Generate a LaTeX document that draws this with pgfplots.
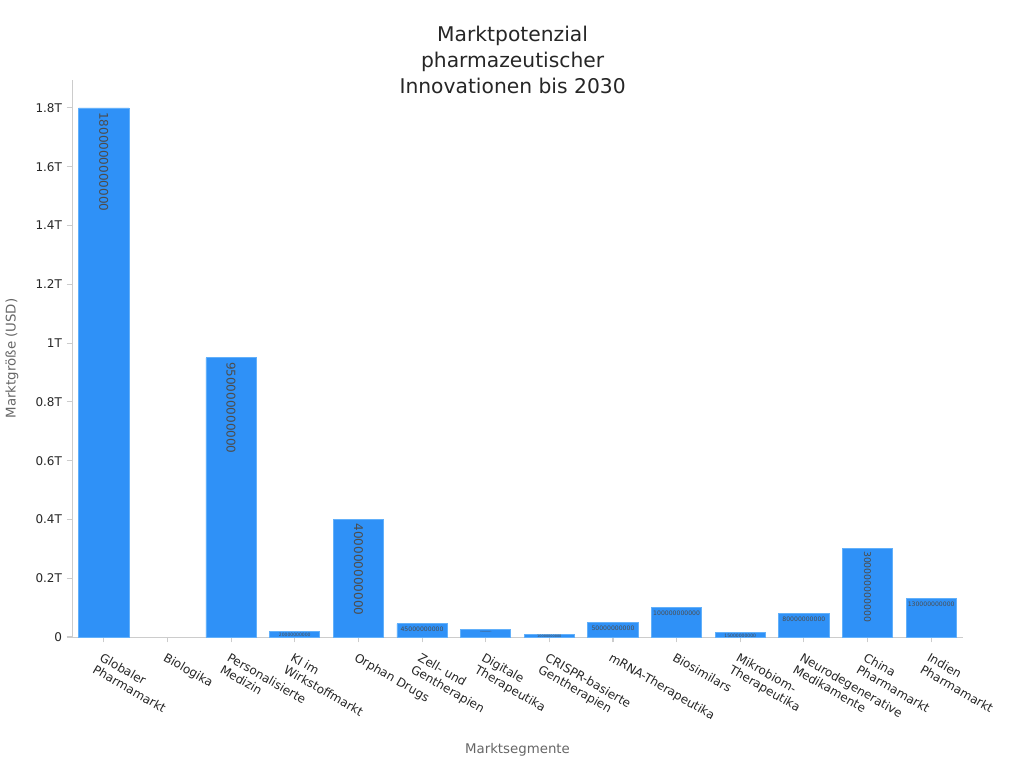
\documentclass[border=0pt]{standalone}
\usepackage{pgfplots}
\pgfplotsset{compat=1.18}
\usepackage{fontspec}
\setmainfont{DejaVu Sans}
\definecolor{barblue}{HTML}{2F91F7}
\definecolor{baredge}{HTML}{62B0FA}
\definecolor{axgray}{HTML}{CCCCCC}
\definecolor{txt}{HTML}{262626}
\definecolor{labgray}{HTML}{666666}
\begin{document}
\begin{tikzpicture}
\useasboundingbox (-54pt,-98.25pt) rectangle (714pt,477.75pt);
\begin{axis}[
    at={(0,0)}, anchor=south west,
    scale only axis,
    width=668.25pt, height=417.75pt,
    xmin=-0.5, xmax=13.5,
    ymin=0, ymax=1.895e12,
    axis x line*=bottom, axis y line*=left,
    axis line style={axgray},
    xtick={0,...,13},
    xticklabels={{Globaler\\Pharmamarkt},Biologika,{Personalisierte\\Medizin},{KI im\\Wirkstoffmarkt},Orphan Drugs,{Zell- und\\Gentherapien},{Digitale\\Therapeutika},{CRISPR-basierte\\Gentherapien},mRNA-Therapeutika,Biosimilars,{Mikrobiom-\\Therapeutika},{Neurodegenerative\\Medikamente},{China\\Pharmamarkt},{Indien\\Pharmamarkt}},
    x tick label style={font=\fontsize{9}{10.5}\selectfont, text=txt, rotate=-30, anchor=north west, align=left, xshift=0pt, yshift=-3pt},
    ytick={0,2e11,4e11,6e11,8e11,1e12,1.2e12,1.4e12,1.6e12,1.8e12},
    yticklabels={0,0.2T,0.4T,0.6T,0.8T,1T,1.2T,1.4T,1.6T,1.8T},
    y tick label style={font=\fontsize{9}{10.5}\selectfont, text=txt},
    tick align=outside,
    major tick length=4pt,
    tick style={axgray, line width=0.8pt},
    scaled y ticks=false,
    unbounded coords=discard,
    xlabel={Marktsegmente},
    ylabel={Marktgröße (USD)},
    xlabel style={font=\fontsize{10}{12}\selectfont, text=labgray, at={(axis description cs:0.5,-0.203)}, anchor=center},
    ylabel style={font=\fontsize{10}{12}\selectfont, text=labgray, at={(axis description cs:-0.0673,0.5)}, anchor=center},
    title={Marktpotenzial\\pharmazeutischer\\Innovationen bis 2030},
    title style={font=\fontsize{15.2}{19.5}\selectfont, text=txt, align=center, at={(axis description cs:0.4945,1.0215)}, anchor=center},
    clip=false,
]
\addplot[ybar, bar width=0.79, fill=barblue, draw=baredge, line width=0.6pt]
  coordinates {(0,1800000000000) (1,nan) (2,950000000000) (3,20000000000)
    (4,400000000000) (5,45000000000) (6,25000000000) (7,10000000000)
    (8,50000000000) (9,100000000000) (10,15000000000) (11,80000000000)
    (12,300000000000) (13,130000000000)};
% rotated labels, large
\addplot[draw=none, mark=none, nodes near coords, point meta=explicit symbolic,
  nodes near coords style={font=\fontsize{9}{9}\selectfont, text=black!70, rotate=-90, anchor=west, inner sep=3pt}]
  coordinates {(0,1800000000000)[1800000000000] (2,950000000000)[950000000000] (4,400000000000)[400000000000]};
\addplot[draw=none, mark=none, nodes near coords, point meta=explicit symbolic,
  nodes near coords style={font=\fontsize{7}{7}\selectfont, text=black!70, rotate=-90, anchor=west, inner sep=1.5pt}]
  coordinates {(12,300000000000)[300000000000]};
% small horizontal labels
\addplot[draw=none, mark=none, nodes near coords, point meta=explicit symbolic,
  nodes near coords style={font=\fontsize{4.6}{5}\selectfont, text=black!70, anchor=north, inner sep=2.5pt}]
  coordinates {(5,45000000000)[45000000000] (8,50000000000)[50000000000] (9,100000000000)[100000000000] (11,80000000000)[80000000000] (13,130000000000)[130000000000]};
\addplot[draw=none, mark=none, nodes near coords, point meta=explicit symbolic,
  nodes near coords style={font=\fontsize{3.4}{4}\selectfont, text=black!70, anchor=north, inner sep=1.2pt}]
  coordinates {(3,20000000000)[20000000000] (10,15000000000)[15000000000]};
\addplot[draw=none, mark=none, nodes near coords, point meta=explicit symbolic,
  nodes near coords style={font=\fontsize{2.6}{3}\selectfont, text=black!70, anchor=north, inner sep=0.8pt}]
  coordinates {(7,10000000000)[10000000000]};
\addplot[draw=none, mark=none, nodes near coords, point meta=explicit symbolic,
  nodes near coords style={font=\fontsize{1.2}{1.5}\selectfont, text=black!70, anchor=north, inner sep=1.2pt}]
  coordinates {(6,25000000000)[25000000000]};
\end{axis}
\end{tikzpicture}
\end{document}
